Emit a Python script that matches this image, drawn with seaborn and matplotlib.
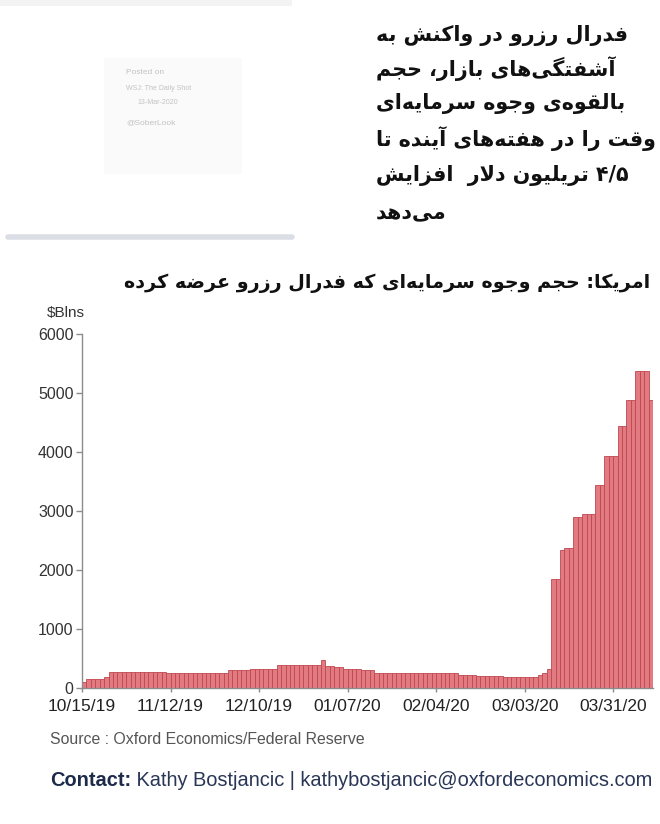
import matplotlib
matplotlib.use("Agg")
import matplotlib.pyplot as plt
import seaborn as sns
from matplotlib.patches import Rectangle
from matplotlib.lines import Line2D

# ---------------- data ----------------
tick_labels = ["10/15/19", "11/12/19", "12/10/19", "01/07/20", "02/04/20", "03/03/20", "03/31/20"]
y_ticks = [0, 1000, 2000, 3000, 4000, 5000, 6000]
offered_bn = (
    [100]
    + [150, 150, 150, 150]
    + [190]
    + [275, 275, 275, 275, 275, 272, 270, 270, 270, 268, 265, 265, 265, 262, 260]
    + [250] * 9
    + [262, 262, 262]
    + [300] * 5
    + [330] * 6
    + [385] * 10
    + [480]
    + [375, 365, 360, 350]
    + [330] * 4
    + [300] * 3
    + [255] * 10 + [250] * 9
    + [225] * 4
    + [205] * 6
    + [185] * 8
    + [225, 250]
    + [320]
    + [1850, 1850]
    + [2340]
    + [2370, 2370]
    + [2890, 2890]
    + [2945, 2945, 2945]
    + [3435, 3435]
    + [3930, 3930, 3930]
    + [4435, 4435]
    + [4885, 4885]
    + [5380, 5380, 5380]
    + [4885]
)
bar_index = list(range(len(offered_bn)))

headline_lines = [
    "فدرال رزرو در واکنش به",
    "آشفتگی‌های بازار، حجم",
    "بالقوه‌ی وجوه سرمایه‌ای",
    "وقت را در هفته‌های آینده تا",
    "۴/۵ تریلیون دلار  افزایش",
    "می‌دهد",
]
chart_title = "امریکا: حجم وجوه سرمایه‌ای که فدرال رزرو عرضه کرده"
posted_lines = ["Posted on", "WSJ: The Daily Shot", "13-Mar-2020", "@SoberLook"]
source_text = "Source : Oxford Economics/Federal Reserve"
contact_bold = "Contact:"
contact_rest = " Kathy Bostjancic | kathybostjancic@oxfordeconomics.com"

# ---------------- Persian shaping (presentation forms) ----------------
def _r(a, b, c, d):
    return (chr(a), chr(b), chr(c) if c else None, chr(d) if d else None)

FORMS = {
    '\u0627': _r(0xFE8D, 0xFE8E, 0, 0),
    '\u0622': _r(0xFE81, 0xFE82, 0, 0),
    '\u0628': _r(0xFE8F, 0xFE90, 0xFE91, 0xFE92),
    '\u067E': _r(0xFB56, 0xFB57, 0xFB58, 0xFB59),
    '\u062A': _r(0xFE95, 0xFE96, 0xFE97, 0xFE98),
    '\u062B': _r(0xFE99, 0xFE9A, 0xFE9B, 0xFE9C),
    '\u062C': _r(0xFE9D, 0xFE9E, 0xFE9F, 0xFEA0),
    '\u0686': _r(0xFB7A, 0xFB7B, 0xFB7C, 0xFB7D),
    '\u062D': _r(0xFEA1, 0xFEA2, 0xFEA3, 0xFEA4),
    '\u062E': _r(0xFEA5, 0xFEA6, 0xFEA7, 0xFEA8),
    '\u062F': _r(0xFEA9, 0xFEAA, 0, 0),
    '\u0630': _r(0xFEAB, 0xFEAC, 0, 0),
    '\u0631': _r(0xFEAD, 0xFEAE, 0, 0),
    '\u0632': _r(0xFEAF, 0xFEB0, 0, 0),
    '\u0698': _r(0xFB8A, 0xFB8B, 0, 0),
    '\u0633': _r(0xFEB1, 0xFEB2, 0xFEB3, 0xFEB4),
    '\u0634': _r(0xFEB5, 0xFEB6, 0xFEB7, 0xFEB8),
    '\u0635': _r(0xFEB9, 0xFEBA, 0xFEBB, 0xFEBC),
    '\u0636': _r(0xFEBD, 0xFEBE, 0xFEBF, 0xFEC0),
    '\u0637': _r(0xFEC1, 0xFEC2, 0xFEC3, 0xFEC4),
    '\u0638': _r(0xFEC5, 0xFEC6, 0xFEC7, 0xFEC8),
    '\u0639': _r(0xFEC9, 0xFECA, 0xFECB, 0xFECC),
    '\u063A': _r(0xFECD, 0xFECE, 0xFECF, 0xFED0),
    '\u0641': _r(0xFED1, 0xFED2, 0xFED3, 0xFED4),
    '\u0642': _r(0xFED5, 0xFED6, 0xFED7, 0xFED8),
    '\u06A9': _r(0xFB8E, 0xFB8F, 0xFB90, 0xFB91),
    '\u06AF': _r(0xFB92, 0xFB93, 0xFB94, 0xFB95),
    '\u0644': _r(0xFEDD, 0xFEDE, 0xFEDF, 0xFEE0),
    '\u0645': _r(0xFEE1, 0xFEE2, 0xFEE3, 0xFEE4),
    '\u0646': _r(0xFEE5, 0xFEE6, 0xFEE7, 0xFEE8),
    '\u0648': _r(0xFEED, 0xFEEE, 0, 0),
    '\u0647': _r(0xFEE9, 0xFEEA, 0xFEEB, 0xFEEC),
    '\u06CC': _r(0xFBFC, 0xFBFD, 0xFBFE, 0xFBFF),
}
LAMALEF = {'\u0627': ('\uFEFB', '\uFEFC'), '\u0622': ('\uFEF5', '\uFEF6')}


def _dual(c):
    return c in FORMS and FORMS[c][2] is not None


def shape_word(w):
    ch = list(w)
    n = len(ch)
    out = []
    i = 0
    while i < n:
        c = ch[i]
        if c == '\u200c':
            i += 1
            continue
        if c not in FORMS:
            out.append(c)
            i += 1
            continue
        pj = i > 0 and _dual(ch[i - 1])
        if c == '\u0644' and i + 1 < n and ch[i + 1] in LAMALEF:
            lig = LAMALEF[ch[i + 1]]
            out.append(lig[1] if pj else lig[0])
            i += 2
            continue
        nj = _dual(c) and i + 1 < n and ch[i + 1] in FORMS
        iso, fin, ini, med = FORMS[c]
        out.append(med if (pj and nj) else fin if pj else ini if nj else iso)
        i += 1
    return ''.join(out)


def visual(line):
    toks = line.split(' ')
    res = []
    for t in toks:
        if any(c in FORMS for c in t):
            res.append(shape_word(t)[::-1])
        else:
            res.append(t)
    return ' '.join(res[::-1])

# ---------------- figure ----------------
sns.set_style("ticks")
plt.rcParams['font.family'] = ['Liberation Sans', 'DejaVu Sans']

W, H = 660, 824
fig = plt.figure(figsize=(W / 100, H / 100), dpi=100)
fig.patch.set_facecolor('white')


def fx(x):
    return x / W


def fy(y):
    return 1 - y / H

renderer = fig.canvas.get_renderer()


def fit_width(t, target):
    w = t.get_window_extent(renderer).width
    t.set_fontsize(t.get_fontsize() * target / w)

# top-left screenshot-like panel
fig.patches.append(Rectangle((fx(0), fy(6)), fx(292), 6 / H, transform=fig.transFigure,
                             facecolor='#f3f3f4', edgecolor='none', zorder=0))
fig.patches.append(Rectangle((fx(104), fy(174)), fx(138), 116 / H, transform=fig.transFigure,
                             facecolor='#fafafa', edgecolor='none', zorder=0))
fig.lines.append(Line2D([fx(8), fx(292)], [fy(237), fy(237)], transform=fig.transFigure,
                        color='#dcdee6', lw=4))
post_y = [73, 88, 103, 123]
post_x = [126, 126, 178, 126]
post_ha = ['left', 'left', 'right', 'left']
post_fs = [6.0, 5.0, 5.0, 6.0]
for txt, x, y, ha, fs in zip(posted_lines, post_x, post_y, post_ha, post_fs):
    fig.text(fx(x), fy(y), txt, ha=ha, va='center', fontsize=fs, color='#c2c2c2')

# Persian headline (left aligned)
head_y = [36, 69, 104, 139, 176, 213]
fa_font = ['DejaVu Sans']
first = None
fs_head = 15
for line, y in zip(headline_lines, head_y):
    t = fig.text(fx(376), fy(y), visual(line), ha='left', va='center', fontsize=15,
                 fontweight='bold', family=fa_font, color='#111111')
    if first is None:
        first = t
        fit_width(t, 252)
        fs_head = t.get_fontsize()
    else:
        t.set_fontsize(fs_head)

# chart title
tt = fig.text(fx(650), fy(283), visual(chart_title), ha='right', va='center', fontsize=14,
              fontweight='bold', family=fa_font, color='#111111')
fit_width(tt, 530)

# ---------------- bar chart ----------------
ax = fig.add_axes([fx(82), fy(688), (653 - 82) / W, (688 - 334) / H])
sns.barplot(x=bar_index, y=offered_bn, color='#e27a81', edgecolor='#c0464f', linewidth=0.6,
            width=1.0, saturation=1, ax=ax)
ax.set_xlim(-0.5, len(offered_bn) - 0.5)
ax.set_ylim(0, 6000)
ax.set_yticks(y_ticks)
ax.set_yticklabels([str(v) for v in y_ticks])
ax.set_xticks([-0.5 + 20 * k for k in range(len(tick_labels))])
ax.set_xticklabels(tick_labels)
ax.set_xlabel('')
ax.set_ylabel('')
for s in ['top', 'right']:
    ax.spines[s].set_visible(False)
for s in ['left', 'bottom']:
    ax.spines[s].set_color('#8c8c8c')
    ax.spines[s].set_linewidth(1.0)
ax.tick_params(axis='y', length=4, width=1, color='#8c8c8c', pad=2, labelsize=11.5,
               labelcolor='#333333')
ax.tick_params(axis='x', length=3, width=1, color='#8c8c8c', pad=5, labelsize=12.5,
               labelcolor='#222222')
ax.set_facecolor('white')

fig.text(fx(85), fy(313), "$Blns", ha='right', va='center', fontsize=11, color='#333333')

src = fig.text(fx(50), fy(740), source_text, ha='left', va='center', fontsize=10, color='#555555')
fit_width(src, 316)

cb = fig.text(fx(50), fy(781), contact_bold, ha='left', va='center', fontsize=13,
              fontweight='bold', color='#1d2a4a')
cr = fig.text(fx(50), fy(781), contact_rest, ha='left', va='center', fontsize=13, color='#2a3656')
wb = cb.get_window_extent(renderer).width
wr = cr.get_window_extent(renderer).width
scale = (652 - 50) / (wb + wr)
cb.set_fontsize(13 * scale)
cr.set_fontsize(13 * scale)
wb = cb.get_window_extent(renderer).width
cr.set_x(fx(50 + wb))

fig.savefig("out.png", dpi=100, facecolor='white')
